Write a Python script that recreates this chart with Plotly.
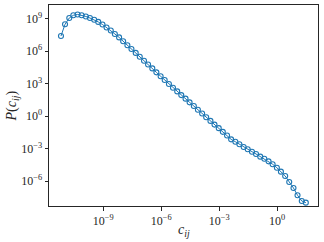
import plotly.graph_objects as go

# log10 of bin centres c_ij
log_c = [-11.19, -10.98, -10.76, -10.55, -10.33, -10.12, -9.90, -9.69, -9.47, -9.26,
         -9.04, -8.83, -8.61, -8.40, -8.18, -7.97, -7.75, -7.54, -7.32, -7.11,
         -6.89, -6.68, -6.46, -6.25, -6.03, -5.82, -5.60, -5.39, -5.17, -4.96,
         -4.74, -4.53, -4.31, -4.10, -3.88, -3.67, -3.45, -3.24, -3.02, -2.81,
         -2.59, -2.38, -2.16, -1.95, -1.73, -1.52, -1.30, -1.09, -0.87, -0.66,
         -0.44, -0.23, -0.01, 0.20, 0.42, 0.63, 0.85, 1.06, 1.28, 1.49]
# log10 of P(c_ij)
log_p = [7.40, 8.48, 9.06, 9.31, 9.39, 9.32, 9.20, 9.06, 8.90, 8.70,
         8.46, 8.19, 7.91, 7.59, 7.27, 6.91, 6.55, 6.20, 5.84, 5.48,
         5.12, 4.77, 4.41, 4.05, 3.69, 3.34, 2.98, 2.63, 2.29, 1.95,
         1.62, 1.28, 0.94, 0.60, 0.25, -0.09, -0.43, -0.77, -1.10, -1.44,
         -1.78, -2.13, -2.35, -2.59, -2.84, -3.05, -3.27, -3.48, -3.73, -3.92,
         -4.16, -4.43, -4.75, -5.11, -5.51, -6.06, -6.62, -7.29, -7.82, -7.97]

c_vals = [10 ** v for v in log_c]
p_vals = [10 ** v for v in log_p]

x_tick_exp = [-9, -6, -3, 0]
y_tick_exp = [9, 6, 3, 0, -3, -6]

def lab(e):
    s = str(e).replace("-", "\u2212")
    return "10<sup>" + s + "</sup>"

blue = "#1f77b4"
font_family = "Liberation Serif, DejaVu Serif, serif"
ink = "#262626"

fig = go.Figure()
fig.add_trace(go.Scatter(
    x=c_vals, y=p_vals, mode="lines+markers",
    line=dict(color=blue, width=1),
    marker=dict(symbol="circle-open", size=5, color=blue, line=dict(width=1.1, color=blue)),
    showlegend=False,
))

axis_common = dict(
    type="log", showgrid=False, zeroline=False, showline=True, mirror=True,
    linecolor=ink, linewidth=1, ticks="outside", ticklen=3.5, tickwidth=1,
    tickcolor=ink, tickfont=dict(family=font_family, size=12, color=ink),
    automargin=False,
)

fig.update_layout(
    width=324, height=242,
    margin=dict(l=49, r=6, t=5, b=36),
    paper_bgcolor="white", plot_bgcolor="white",
    xaxis=dict(
        range=[-11.81, 2.12],
        tickvals=[10 ** e for e in x_tick_exp], ticktext=[lab(e) for e in x_tick_exp],
        **axis_common,
    ),
    yaxis=dict(
        range=[-8.28, 10.26],
        tickvals=[10 ** e for e in y_tick_exp], ticktext=[lab(e) for e in y_tick_exp],
        **axis_common,
    ),
    annotations=[
        dict(text="<i>c<sub>ij</sub></i>", xref="paper", yref="paper",
             x=0.5, y=-0.124, xanchor="center", yanchor="middle", showarrow=False,
             font=dict(family=font_family, size=14, color=ink)),
        dict(text="<i>P</i>(<i>c<sub>ij</sub></i>)", xref="paper", yref="paper",
             x=-0.134, y=0.5, xanchor="center", yanchor="middle", showarrow=False,
             textangle=-90, font=dict(family=font_family, size=14, color=ink)),
    ],
)

fig.write_html(
    "out.html",
    config={"displayModeBar": False, "staticPlot": True},
    post_script="document.body.style.margin='0';document.body.style.overflow='hidden';",
)
